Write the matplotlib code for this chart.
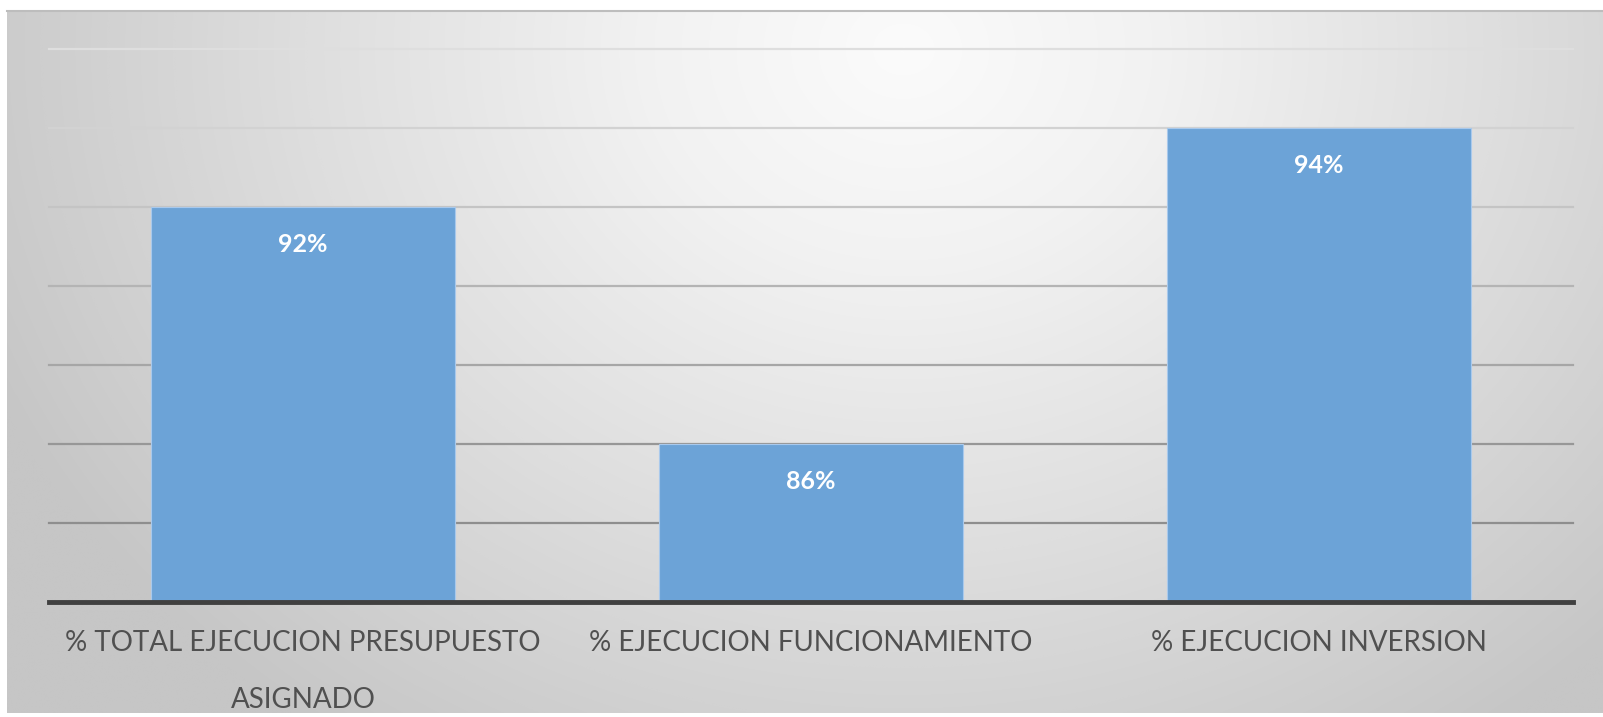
#!/usr/bin/env python3

import numpy as np
import matplotlib
matplotlib.use('Agg')
import matplotlib.pyplot as plt
from matplotlib.colors import LinearSegmentedColormap

categories = ['% TOTAL EJECUCION PRESUPUESTO\nASIGNADO',
              '% EJECUCION FUNCIONAMIENTO',
              '% EJECUCION INVERSION']
values = [92, 86, 94]
labels = ['92%', '86%', '94%']

plt.rcParams['font.family'] = ['Lato', 'DejaVu Sans']

W, H = 1603, 717
fig = plt.figure(figsize=(W / 100, H / 100), dpi=100)
fig.patch.set_facecolor('white')

# radial gray background of the chart area
bg = fig.add_axes([0, 0, 1, 1])
bg.set_xlim(0, W)
bg.set_ylim(H, 0)
bg.set_axis_off()
yy, xx = np.mgrid[0:H:1.0, 0:W:1.0]
d = np.sqrt(((xx - 900) / 1000) ** 2 + ((yy - 40) / 860) ** 2)
grad = np.clip(d, 0, 1)
cmap = LinearSegmentedColormap.from_list(
    'bg', [(0, '#fbfbfb'), (0.25, '#f2f2f2'), (0.6, '#dedede'), (1, '#c6c6c6')])
bg.imshow(grad, cmap=cmap, extent=(7, W, 713, 10), aspect='auto', zorder=0)
bg.plot([7, W], [10.5, 10.5], color='#bdbdbd', lw=1.5, zorder=1)

ax = fig.add_axes([49 / W, (H - 602) / H, (1573 - 49) / W, (602 - 49) / H])
ax.patch.set_alpha(0)
x = np.arange(len(categories))
bars = ax.bar(x, values, width=0.6, color='#6ca3d7', edgecolor='#a9c9ec',
              linewidth=0.8, zorder=2)
ax.set_xlim(-0.5, 2.5)
ax.set_ylim(82, 96)

# gridlines fade out towards the bright top of the picture
grid_levels = np.arange(84, 97, 2)
grid_colors = ['#8e8e8e', '#979797', '#a6a6a6', '#b4b4b4', '#c4c4c4', '#d2d2d2', '#dedede']
for lvl, c in zip(grid_levels, grid_colors):
    ax.axhline(lvl, color=c, lw=1.6, zorder=1, clip_on=False)

ax.set_yticks([])
for s in ['top', 'right', 'left']:
    ax.spines[s].set_visible(False)
ax.spines['bottom'].set_color('#404040')
ax.spines['bottom'].set_linewidth(3.5)
ax.spines['bottom'].set_zorder(3)
ax.set_xticks(x)
ax.set_xticklabels(categories, fontsize=20, color='#505050', linespacing=2.5)
ax.tick_params(axis='x', length=0, pad=20)

for b, t in zip(bars, labels):
    ax.annotate(t, (b.get_x() + b.get_width() / 2, b.get_height()),
                xytext=(0, -27), textcoords='offset points',
                ha='center', va='center', fontsize=18, fontweight='bold',
                color='white', zorder=4)

fig.savefig('out.png', dpi=100)
